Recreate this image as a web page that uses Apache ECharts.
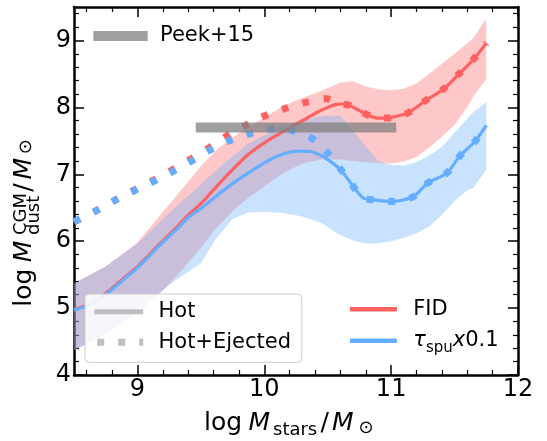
<!DOCTYPE html>
<html>
<head>
<meta charset="utf-8">
<script src="https://cdn.jsdelivr.net/npm/echarts@6/dist/echarts.min.js"></script>
<style>html,body{margin:0;padding:0;background:#fff}#c{width:547px;height:441px}</style>
</head>
<body>
<div id="c"></div>
<script>
// ---------- data ----------
const X_TICKS = [9, 10, 11, 12];
const X_MINOR = [8.6, 8.8, 9.2, 9.4, 9.6, 9.8, 10.2, 10.4, 10.6, 10.8, 11.2, 11.4, 11.6, 11.8];
const Y_TICKS = [4, 5, 6, 7, 8, 9];
const Y_MINOR = [4.2, 4.4, 4.6, 4.8, 5.2, 5.4, 5.6, 5.8, 6.2, 6.4, 6.6, 6.8, 7.2, 7.4, 7.6, 7.8, 8.2, 8.4, 8.6, 8.8, 9.2, 9.4];

// shaded ranges
const BAND_X = [8.5, 8.75, 9.0, 9.25, 9.5, 9.625, 9.75, 9.875, 10.0, 10.15, 10.3, 10.45, 10.6, 10.7, 10.8, 10.9, 11.0, 11.1, 11.2, 11.3, 11.4, 11.5, 11.6, 11.65, 11.75];
const FID_HI = [5.37, 5.62, 5.98, 6.55, 7.12, 7.37, 7.55, 7.71, 7.85, 8.02, 8.14, 8.25, 8.37, 8.39, 8.31, 8.27, 8.255, 8.28, 8.36, 8.5, 8.65, 8.8, 8.96, 9.04, 9.33];
const FID_LO = [4.37, 4.61, 4.94, 5.35, 5.9, 6.2, 6.45, 6.65, 6.82, 7.02, 7.16, 7.22, 7.22, 7.2, 7.18, 7.17, 7.16, 7.19, 7.26, 7.4, 7.56, 7.74, 8.0, 8.17, 8.42];
const TAU_HI = [5.37, 5.62, 5.96, 6.42, 6.85, 7.07, 7.27, 7.46, 7.58, 7.72, 7.8, 7.87, 7.88, 7.65, 7.42, 7.19, 7.14, 7.13, 7.18, 7.28, 7.41, 7.62, 7.83, 7.93, 8.08];
const TAU_LO = [4.37, 4.6, 4.92, 5.35, 5.67, 6.05, 6.33, 6.43, 6.44, 6.42, 6.37, 6.27, 6.09, 6.01, 5.96, 5.97, 6.0, 6.05, 6.12, 6.22, 6.39, 6.6, 6.76, 6.8, 7.07];

// Hot (solid)
const FID_X = [8.5, 8.65, 8.75, 8.9, 9.0, 9.15, 9.3, 9.4, 9.5, 9.625, 9.75, 9.875, 10.0, 10.15, 10.3, 10.41, 10.5, 10.56, 10.62, 10.67, 10.75, 10.81, 10.89, 10.97, 11.04, 11.12, 11.2, 11.27, 11.41, 11.53, 11.65, 11.75];
const FID_Y = [4.98, 5.08, 5.22, 5.46, 5.62, 5.91, 6.19, 6.39, 6.56, 6.82, 7.07, 7.3, 7.47, 7.64, 7.8, 7.92, 8.0, 8.04, 8.05, 8.03, 7.95, 7.89, 7.84, 7.84, 7.867, 7.907, 8.0, 8.1, 8.27, 8.49, 8.72, 8.96];
const TAU_X = [8.5, 8.65, 8.75, 8.9, 9.0, 9.15, 9.3, 9.4, 9.5, 9.625, 9.75, 9.875, 10.0, 10.1, 10.2, 10.28, 10.36, 10.45, 10.5, 10.6, 10.7, 10.78, 10.85, 10.95, 11.01, 11.1, 11.18, 11.29, 11.44, 11.54, 11.66, 11.75];
const TAU_Y = [4.97, 5.07, 5.2, 5.44, 5.6, 5.89, 6.16, 6.35, 6.49, 6.68, 6.86, 7.02, 7.17, 7.27, 7.33, 7.345, 7.34, 7.28, 7.22, 7.07, 6.82, 6.645, 6.62, 6.6, 6.594, 6.62, 6.67, 6.87, 7.02, 7.27, 7.49, 7.73];

// Hot+Ejected (dotted)
const FID_HE_X = [8.5, 8.67, 8.82, 8.97, 9.125, 9.27, 9.414, 9.56, 9.7, 9.86, 10.0, 10.16, 10.32, 10.49, 10.56, 10.62, 10.67, 10.75, 10.81, 10.89, 10.97, 11.04, 11.12, 11.2, 11.27, 11.41, 11.53, 11.65, 11.75];
const FID_HE_Y = [6.29, 6.45, 6.61, 6.76, 6.91, 7.06, 7.22, 7.39, 7.57, 7.74, 7.87, 7.98, 8.07, 8.13, 8.09, 8.05, 8.03, 7.95, 7.89, 7.84, 7.84, 7.867, 7.907, 8.0, 8.1, 8.27, 8.49, 8.72, 8.96];
const TAU_HE_X = [8.5, 8.67, 8.82, 8.97, 9.125, 9.27, 9.42, 9.56, 9.71, 9.86, 10.0, 10.1, 10.23, 10.38, 10.5, 10.6, 10.7, 10.78, 10.85, 10.95, 11.01, 11.1, 11.18, 11.29, 11.44, 11.54, 11.66, 11.75];
const TAU_HE_Y = [6.29, 6.45, 6.61, 6.75, 6.89, 7.03, 7.19, 7.35, 7.49, 7.59, 7.66, 7.68, 7.65, 7.53, 7.32, 7.08, 6.82, 6.645, 6.62, 6.6, 6.594, 6.62, 6.67, 6.87, 7.02, 7.27, 7.49, 7.73];

// Peek+15 observation
const PEEK_X = [9.46, 11.04];
const PEEK_Y = [7.7, 7.7];

// ---------- helpers ----------
const zip = (xs, ys) => xs.map((x, i) => [x, ys[i]]);
const FONT = 'DejaVu Sans';
const RED = '#ff6161';
const BLUE = '#64aeff';
const GRAY = '#bfbfbf';
const PEEK_C = 'rgba(128,128,128,0.75)';

function xAx(pos, major) {
  return {
    type: 'value', min: 8.5, max: 12, position: pos, gridIndex: 0,
    axisLine: { show: major, onZero: false, lineStyle: { color: '#000', width: 2.5 } },
    axisTick: { show: true, inside: true, length: major ? 10 : 5,
      lineStyle: { color: '#000', width: major ? 1.5 : 1.2 },
      customValues: major ? X_TICKS : X_MINOR },
    axisLabel: { show: major && pos === 'bottom', customValues: X_TICKS, margin: 3,
      fontSize: 24, fontFamily: FONT, color: '#000' },
    splitLine: { show: false }
  };
}
function yAx(pos, major) {
  return {
    type: 'value', min: 4, max: 9.5, position: pos, gridIndex: 0,
    axisLine: { show: major, onZero: false, lineStyle: { color: '#000', width: 2.5 } },
    axisTick: { show: true, inside: true, length: major ? 10 : 5,
      lineStyle: { color: '#000', width: major ? 1.5 : 1.2 },
      customValues: major ? Y_TICKS : Y_MINOR },
    axisLabel: { show: major && pos === 'left', customValues: Y_TICKS, margin: 3,
      fontSize: 24, fontFamily: FONT, color: '#000' },
    splitLine: { show: false }
  };
}

const base = { type: 'line', xAxisIndex: 0, yAxisIndex: 0, symbol: 'none', silent: true,
  emphasis: { disabled: true }, animation: false };

// shaded range drawn as one polygon, every vertex placed through the axes (api.coord)
function band(name, xs, lo, hi, fill) {
  return {
    type: 'custom', name, xAxisIndex: 0, yAxisIndex: 0, silent: true, animation: false,
    data: xs.map((x, i) => [x, lo[i], hi[i]]),
    encode: { x: 0, y: [1, 2] },
    renderItem: function (params, api) {
      if (params.dataIndex !== 0) return null;
      const pts = [];
      for (let i = 0; i < xs.length; i++) pts.push(api.coord([xs[i], hi[i]]));
      for (let i = xs.length - 1; i >= 0; i--) pts.push(api.coord([xs[i], lo[i]]));
      return { type: 'polygon', shape: { points: pts }, style: { fill: fill, stroke: null } };
    }
  };
}
function line(name, xs, ys, color, width, type, smooth) {
  return Object.assign({}, base, { name, data: zip(xs, ys), smooth: smooth,
    itemStyle: { color }, lineStyle: { color, width, type, cap: 'butt' } });
}

const series = [
  band('fidband', BAND_X, FID_LO, FID_HI, 'rgba(255,97,97,0.35)'),
  band('tauband', BAND_X, TAU_LO, TAU_HI, 'rgba(100,174,255,0.35)'),
  line('FID', FID_X, FID_Y, RED, 3.2, 'solid', 0.3),
  line('FID_HE', FID_HE_X, FID_HE_Y, RED, 7, [7, 14.5], 0.3),
  line('tau', TAU_X, TAU_Y, BLUE, 3.2, 'solid', 0.3),
  line('tau_HE', TAU_HE_X, TAU_HE_Y, BLUE, 7, [7, 14.5], 0.3),
  line('Peek+15', PEEK_X, PEEK_Y, PEEK_C, 10, 'solid', false),
  line('Hot', [], [], GRAY, 5, 'solid', false),
  line('Hot+Ejected', [], [], GRAY, 7, [7, 14], false)
];

const legText = { fontSize: 21, fontFamily: FONT, color: '#000', lineHeight: 21 };

const legends = [
  { data: [{ name: 'Peek+15', itemStyle: { opacity: 0 },
      lineStyle: { color: PEEK_C, width: 10, type: 'solid', cap: 'butt' } }],
    left: 88.3, top: 25.5, padding: 0, itemWidth: 54.4, itemHeight: 10, align: 'left',
    selectedMode: false, textStyle: Object.assign({}, legText, { padding: [0, 0, 0, 7.3] }) },
  { data: [
      { name: 'Hot', itemStyle: { opacity: 0 }, lineStyle: { color: GRAY, width: 5, type: 'solid', cap: 'butt' } },
      { name: 'Hot+Ejected', itemStyle: { opacity: 0 }, lineStyle: { color: GRAY, width: 7, type: [7, 14], dashOffset: 18, cap: 'butt' } }
    ],
    orient: 'vertical', left: 85, top: 294, padding: [7.2, 10.8, 9.5, 5.7], itemGap: 9.6,
    itemWidth: 49, itemHeight: 14, align: 'left', selectedMode: false,
    borderColor: '#cccccc', borderWidth: 1, borderRadius: 4, backgroundColor: 'rgba(255,255,255,0.85)',
    textStyle: Object.assign({}, legText, { padding: [0, 0, 0, 10.3] }) },
  { data: [
      { name: 'FID', itemStyle: { opacity: 0 }, lineStyle: { color: RED, width: 4.5, type: 'solid', cap: 'butt' } },
      { name: 'tau', itemStyle: { opacity: 0 }, lineStyle: { color: BLUE, width: 4.5, type: 'solid', cap: 'butt' } }
    ],
    orient: 'vertical', left: 347.7, top: 298.8, padding: 0, itemGap: 6.4,
    itemWidth: 47, itemHeight: 14, align: 'left', selectedMode: false,
    formatter: n => n === 'tau' ? '{t|τ}{s|spu}{x|x}{n|0.1}' : n,
    textStyle: Object.assign({}, legText, { padding: [0, 0, 0, 11.3],
      rich: {
        t: { fontSize: 21, fontFamily: FONT, fontStyle: 'italic', lineHeight: 29, color: '#000' },
        s: { fontSize: 15, fontFamily: FONT, lineHeight: 15, verticalAlign: 'bottom', color: '#000' },
        x: { fontSize: 21, fontFamily: FONT, fontStyle: 'italic', lineHeight: 29, color: '#000' },
        n: { fontSize: 21, fontFamily: FONT, lineHeight: 29, color: '#000' }
      } }) }
];

// axis titles (math-like pieces)
const R = Math.PI / 2;
function T(txt, x, y, size, italic, rot) {
  return { type: 'text', x, y, rotation: rot ? R : 0, silent: true, z: 100,
    style: { text: txt, font: (italic ? 'italic ' : '') + size + 'px "DejaVu Sans"',
      fill: '#000', textAlign: 'left', textVerticalAlign: 'middle' } };
}
const graphic = [
  // x title: log M_stars / M_sun
  T('log', 204, 423, 25, false, false),
  T('M', 248.5, 423, 25, true, false),
  T('stars', 273, 430, 18, false, false),
  T('/', 320.5, 423, 25, false, false),
  T('M', 332, 423, 25, true, false),
  T('\u2299', 358.5, 428.3, 18, false, false),
  // y title: log M_dust^CGM / M_sun (rotated)
  T('log', 24.85, 306.7, 25, false, true),
  T('M', 24.85, 262.2, 25, true, true),
  T('CGM', 21.3, 235, 18, false, true),
  T('dust', 34.8, 235, 18, false, true),
  T('/', 24.85, 191.7, 25, false, true),
  T('M', 24.85, 179.5, 25, true, true),
  T('\u2299', 26.7, 154.2, 18, false, true)
];

const chart = echarts.init(document.getElementById('c'), null, { renderer: 'canvas' });
chart.setOption({
  animation: false,
  backgroundColor: '#fff',
  tooltip: { show: false },
  grid: { left: 74, right: 29, top: 7, bottom: 66, containLabel: false, outerBoundsMode: 'none' },
  xAxis: [xAx('bottom', true), xAx('top', true), xAx('bottom', false), xAx('top', false)],
  yAxis: [yAx('left', true), yAx('right', true), yAx('left', false), yAx('right', false)],
  legend: legends,
  graphic: graphic,
  series: series
});
</script>
</body>
</html>
